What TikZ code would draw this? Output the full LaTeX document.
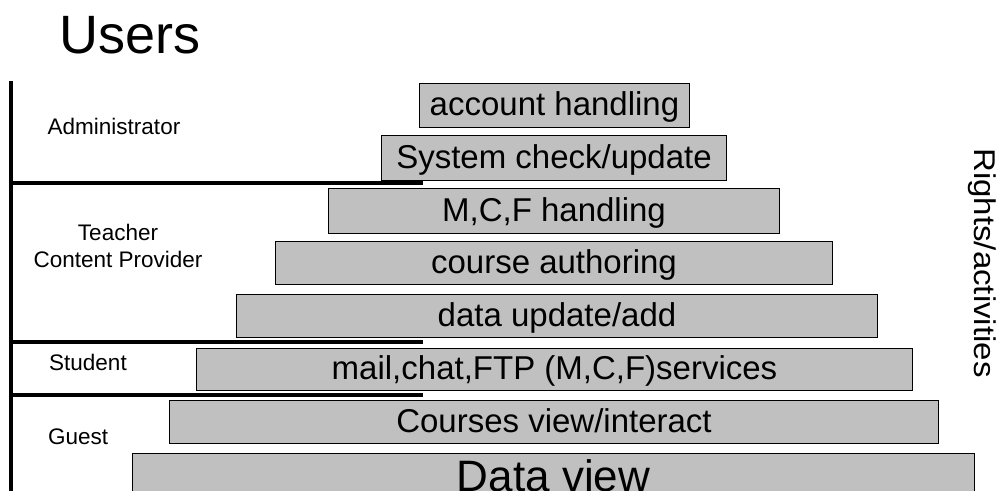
\documentclass[tikz,border=0pt]{standalone}
\usepackage{fontspec}
\usepackage{graphicx}
\setmainfont{Liberation Sans}
\definecolor{boxgray}{HTML}{C0C0C0}
\tikzset{
  actbox/.style={draw=black, fill=boxgray, line width=1pt, inner sep=0pt,
    anchor=north west, font=\fontsize{33}{38}\selectfont,
    text height=22pt, text depth=2pt},
  bigbox/.style={actbox, font=\fontsize{44}{50}\selectfont,
    text height=33pt, text depth=1pt},
  rolelabel/.style={font=\fontsize{22.5}{27}\selectfont, inner sep=0pt},
  sepline/.style={line width=3.5pt},
}
\begin{document}
\begin{tikzpicture}[x=1pt,y=-1pt]
\useasboundingbox (0,0) rectangle (1006,490);

% title
\node[font=\fontsize{54}{60}\selectfont, inner sep=0pt, anchor=base west] (users) at (59,53) {Users};

% activity boxes
\node[actbox, minimum width=270pt, minimum height=44pt] (b1) at (419,83) {account handling};
\node[actbox, minimum width=345pt, minimum height=45pt] (b2) at (381,135) {System check/update};
\node[actbox, minimum width=451pt, minimum height=45pt] (b3) at (328,188) {M,C,F handling};
\node[actbox, minimum width=557pt, minimum height=43pt] (b4) at (275,241) {course authoring};
\node[actbox, minimum width=641pt, minimum height=43pt] (b5) at (236,294) {data update/add};
\node[actbox, minimum width=716pt, minimum height=42pt] (b6) at (196,348) {mail,chat,FTP (M,C,F)services};
\node[actbox, minimum width=769pt, minimum height=43pt] (b7) at (169,400) {Courses view/interact};
\node[bigbox, minimum width=842pt, minimum height=44pt] (b8) at (132,453) {Data view};

% separator lines
\coordinate (vtop) at (11,81);
\coordinate (vbot) at (11,492);
\draw[sepline] (vtop) -- (vbot);
\coordinate (s1a) at (11,183); \coordinate (s1b) at (423,183);
\coordinate (s2a) at (11,342); \coordinate (s2b) at (423,342);
\coordinate (s3a) at (11,395); \coordinate (s3b) at (423,395);
\draw[sepline] (s1a) -- (s1b);
\draw[sepline] (s2a) -- (s2b);
\draw[sepline] (s3a) -- (s3b);

% role labels
\node[rolelabel, anchor=base] (admin) at (114,134) {Administrator};
\node[rolelabel, anchor=base] (teacher) at (118,240) {Teacher};
\node[rolelabel, anchor=base] (content) at (118,267) {Content Provider};
\node[rolelabel, anchor=base west] (student) at (49,370) {Student};
\node[rolelabel, anchor=base west] (guest) at (48,444) {Guest};

% right label
\node[font=\fontsize{30}{34}\selectfont, inner sep=0pt, anchor=base, rotate=-90] (rights) at (974,263) {\scalebox{1.1}[1]{Rights/activities}};
\end{tikzpicture}
\end{document}
